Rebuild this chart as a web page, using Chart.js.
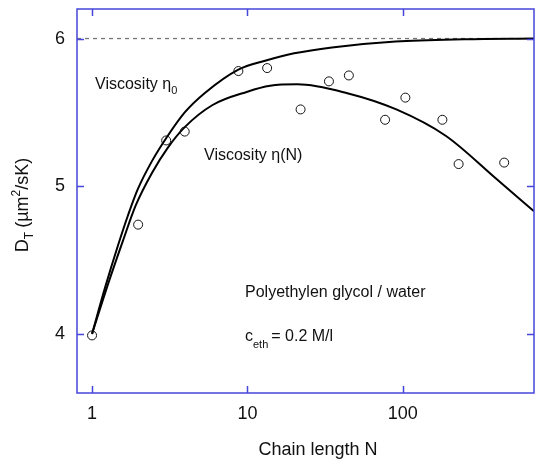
<!DOCTYPE html>
<html>
<head>
<meta charset="utf-8">
<script src="https://cdn.jsdelivr.net/npm/chart.js@4/dist/chart.umd.min.js"></script>
<style>
  html, body { margin: 0; padding: 0; background: #fff; }
  #wrap { width: 535px; height: 459px; position: relative; }
</style>
</head>
<body>
<div id="wrap"><canvas id="c" width="535" height="459"></canvas></div>
<script>
// ---- Data ----
const pointN = [1, 1.98, 3, 3.95, 8.75, 13.4, 22, 33.5, 45, 77, 104, 180, 229, 450];
const pointD = [3.99, 4.74, 5.31, 5.37, 5.78, 5.80, 5.52, 5.71, 5.75, 5.45, 5.60, 5.45, 5.15, 5.16];

const eta0N = [1, 1.21, 1.47, 1.70, 1.97, 2.43, 3.02, 3.95, 5.3, 8.75, 13, 20, 35, 90, 250, 700];
const eta0D = [4.0, 4.31, 4.60, 4.80, 4.98, 5.17, 5.33, 5.50, 5.63, 5.79, 5.85, 5.90, 5.94, 5.98, 5.995, 6.0];

const etaNN = [1, 1.27, 1.58, 1.91, 2.43, 3.07, 3.95, 5.97, 10, 14, 21, 44, 91, 190, 400, 700];
const etaND = [4.0, 4.34, 4.63, 4.87, 5.09, 5.26, 5.40, 5.55, 5.64, 5.68, 5.69, 5.63, 5.52, 5.34, 5.05, 4.83];

const limitN = [0.8, 700];
const limitD = [6, 6];

const xTickValues = [1, 10, 100];
const yTickValues = [4, 5, 6];

const FONT = '"Liberation Sans", Arial, Helvetica, sans-serif';
const AXIS_BLUE = '#4646dc';

const toXY = (xs, ys) => xs.map((x, i) => ({ x: x, y: ys[i] }));

const framePlugin = {
  id: 'frame',
  afterDraw(chart) {
    const { ctx, chartArea: a, scales } = chart;
    const xs = scales.x, ys = scales.y;
    ctx.save();
    // frame
    ctx.strokeStyle = AXIS_BLUE;
    ctx.lineWidth = 1.5;
    ctx.beginPath();
    ctx.rect(a.left, a.top, a.right - a.left, a.bottom - a.top);
    ctx.stroke();
    // inward ticks
    const tl = 7;
    ctx.beginPath();
    xTickValues.forEach(v => {
      const px = Math.round(xs.getPixelForValue(v)) + 0.5;
      ctx.moveTo(px, a.bottom); ctx.lineTo(px, a.bottom - tl);
      ctx.moveTo(px, a.top); ctx.lineTo(px, a.top + tl);
    });
    yTickValues.forEach(v => {
      const py = Math.round(ys.getPixelForValue(v)) + 0.5;
      ctx.moveTo(a.left, py); ctx.lineTo(a.left + tl, py);
      ctx.moveTo(a.right, py); ctx.lineTo(a.right - tl, py);
    });
    ctx.stroke();

    // annotations
    ctx.fillStyle = '#111';
    ctx.textBaseline = 'alphabetic';
    ctx.textAlign = 'left';
    const big = '16px ' + FONT, small = '11px ' + FONT;
    const tbig = '18px ' + FONT, tsmall = '12px ' + FONT;

    function runs(x, y, parts) {
      let cx = x;
      parts.forEach(p => {
        ctx.font = p.font;
        ctx.fillText(p.t, cx, y + (p.dy || 0));
        cx += ctx.measureText(p.t).width + (p.gap || 0);
      });
    }
    runs(95, 89, [{ t: 'Viscosity \u03B7', font: big }, { t: '0', font: small, dy: 5 }]);
    runs(204, 160, [{ t: 'Viscosity \u03B7(N)', font: big }]);
    runs(245, 297, [{ t: 'Polyethylen glycol / water', font: big }]);
    runs(245, 341, [{ t: 'c', font: big }, { t: 'eth', font: small, dy: 7, gap: 3 }, { t: '= 0.2 M/l', font: big }]);

    // x title
    ctx.font = tbig;
    ctx.textAlign = 'center';
    ctx.fillText('Chain length N', 318, 455);

    // y title (rotated)
    ctx.translate(28, 205);
    ctx.rotate(-Math.PI / 2);
    ctx.textAlign = 'left';
    const parts = [
      { t: 'D', font: tbig },
      { t: 'T', font: tsmall, dy: 5, gap: 4 },
      { t: '(\u00B5m', font: tbig },
      { t: '2', font: tsmall, dy: -8 },
      { t: '/sK)', font: tbig }
    ];
    let w = 0;
    parts.forEach(p => { ctx.font = p.font; w += ctx.measureText(p.t).width + (p.gap || 0); });
    runs(-w / 2, 0, parts);
    ctx.restore();
  }
};

function zeroPad(s) { s.paddingLeft = 0; s.paddingRight = 0; s.paddingTop = 0; s.paddingBottom = 0; }

new Chart(document.getElementById('c'), {
  type: 'scatter',
  data: {
    datasets: [
      {
        label: 'points',
        data: toXY(pointN, pointD),
        showLine: false,
        pointStyle: 'circle',
        pointRadius: 4.5,
        pointBorderWidth: 1,
        pointBorderColor: '#111',
        pointBackgroundColor: 'rgba(255,255,255,0)',
        order: 0
      },
      {
        label: 'eta0',
        data: toXY(eta0N, eta0D),
        showLine: true,
        borderColor: '#000',
        borderWidth: 2,
        pointRadius: 0,
        cubicInterpolationMode: 'monotone',
        order: 1
      },
      {
        label: 'etaN',
        data: toXY(etaNN, etaND),
        showLine: true,
        borderColor: '#000',
        borderWidth: 2,
        pointRadius: 0,
        cubicInterpolationMode: 'monotone',
        order: 1
      },
      {
        label: 'limit',
        data: toXY(limitN, limitD),
        showLine: true,
        borderColor: '#777',
        borderWidth: 1.3,
        borderDash: [4, 4],
        pointRadius: 0,
        order: 2
      }
    ]
  },
  options: {
    responsive: false,
    animation: false,
    layout: { autoPadding: false, padding: { top: 9, right: 1, left: 0, bottom: 0 } },
    plugins: { legend: { display: false }, tooltip: { enabled: false } },
    scales: {
      x: {
        type: 'logarithmic',
        min: 0.8,
        max: 700,
        grid: { display: false, drawTicks: false },
        border: { display: false },
        afterFit(s) { s.height = 66; zeroPad(s); },
        afterBuildTicks(s) { s.ticks = xTickValues.map(v => ({ value: v })); },
        ticks: {
          color: '#111',
          font: { family: FONT, size: 18 },
          padding: 10,
          maxRotation: 0,
          autoSkip: false,
          callback: v => String(v)
        }
      },
      y: {
        type: 'linear',
        min: 3.6,
        max: 6.2,
        grid: { display: false, drawTicks: false },
        border: { display: false },
        afterFit(s) { s.width = 77; zeroPad(s); },
        afterBuildTicks(s) { s.ticks = yTickValues.map(v => ({ value: v })); },
        ticks: {
          color: '#111',
          font: { family: FONT, size: 18 },
          padding: 12,
          callback: v => String(v)
        }
      }
    }
  },
  plugins: [framePlugin]
});
</script>
</body>
</html>
